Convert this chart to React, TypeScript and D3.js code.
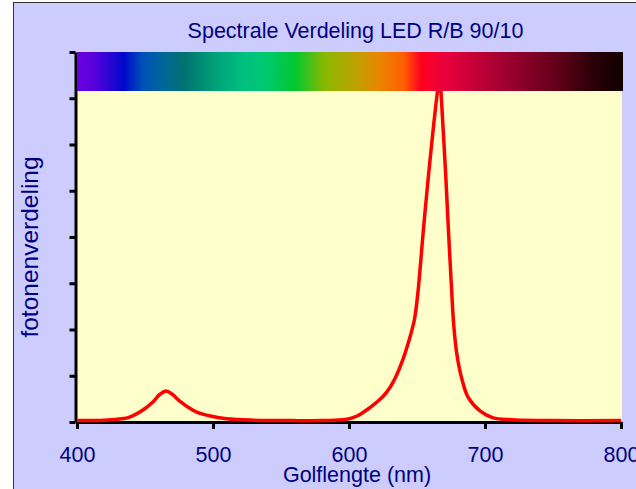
import * as d3 from "d3";
import { useEffect, useRef } from "react";

// spectrum (nm, relative photon count)
const wavelengths = [400, 420, 430, 437, 442, 448.5, 456, 461, 465.5, 470, 476, 485, 490, 498, 510, 530, 560, 580, 590, 598.5, 606, 613, 620, 625, 630, 634, 640, 644, 648, 650.5, 654.4, 658.1, 665.1, 666.8, 667.6, 671.3, 673.2, 675.2, 677, 679.4, 683.1, 687.5, 696.3, 706, 720, 750, 800];
const photons = [0.03, 0.04, 0.06, 0.09, 0.15, 0.26, 0.44, 0.6, 0.67, 0.6, 0.44, 0.26, 0.19, 0.13, 0.07, 0.04, 0.03, 0.03, 0.04, 0.06, 0.13, 0.26, 0.42, 0.55, 0.74, 0.95, 1.38, 1.75, 2.2, 2.75, 4.05, 5.23, 7.16, 7.5, 7.16, 5.23, 4.1, 3.0, 2.1, 1.45, 0.92, 0.54, 0.24, 0.09, 0.05, 0.03, 0.03];

const xTicks = [400, 500, 600, 700, 800];
const yTicks = [0, 1, 2, 3, 4, 5, 6, 7, 8];

// colour strip along the wavelength axis
const stripNm = [400, 412, 434.6, 447.8, 464, 477.2, 500.7, 522, 538.2, 559.6, 580.9, 602.2, 620.6, 639, 652.2, 670.6, 713.2, 752.9, 779.4, 800];
const stripColors = ["#6a00e0", "#5a00dc", "#0008cc", "#0050b8", "#006898", "#007070", "#00a078", "#00c080", "#00c870", "#00c830", "#88b800", "#b8a400", "#e88800", "#ff6000", "#ff0020", "#e8003c", "#a00030", "#600018", "#280006", "#100000"];

const title = "Spectrale Verdeling LED R/B 90/10";
const xLabel = "Golflengte (nm)";
const yLabel = "fotonenverdeling";

const App = () => {
    const ref = useRef(null);

    useEffect(() => {
        renderChart(ref.current);
    }, []);

    return (
        <div style={{ position: "absolute", left: 0, top: 0 }}>
            <svg ref={ref} width="636" height="489" style={{ display: "block" }} />
        </div>
    );
};

const renderChart = (node) => {
    const svg = d3.select(node);
    svg.selectAll("*").remove();

    const font = "'Liberation Sans', Arial, sans-serif";
    const navy = "#000080";

    var x = d3.scaleLinear().domain([400, 800]).range([77, 621]);
    var y = d3.scaleLinear().domain([0, 8]).range([422, 52]);

    // frame
    svg.append("rect")
        .attr("x", 13.5).attr("y", 2.5)
        .attr("width", 700).attr("height", 600)
        .attr("fill", "#ccccff")
        .attr("stroke", "#333").attr("stroke-width", 1);

    // plot background
    svg.append("rect")
        .attr("x", x(400)).attr("y", 91)
        .attr("width", x(800) - x(400) + 1).attr("height", y(0) - 91)
        .attr("fill", "#ffffcc");

    // x axis
    var xAxis = svg.append("g")
        .attr("transform", "translate(0," + y(0) + ")")
        .call(d3.axisBottom(x).tickValues(xTicks).tickSize(7).tickSizeOuter(0).tickPadding(14));
    xAxis.select(".domain").attr("stroke", "#000").attr("stroke-width", 3);
    xAxis.selectAll(".tick line").attr("stroke", "#000").attr("stroke-width", 3);
    xAxis.selectAll(".tick text")
        .attr("fill", navy).attr("font-family", font).attr("font-size", 21.5)
        .attr("dy", null).attr("y", 40);

    // y axis
    var yAxis = svg.append("g")
        .attr("transform", "translate(75.5,0)")
        .call(d3.axisLeft(y).tickValues(yTicks).tickSize(6).tickSizeOuter(0).tickFormat(() => ""));
    yAxis.select(".domain").attr("stroke", "#000").attr("stroke-width", 3);
    yAxis.selectAll(".tick line").attr("stroke", "#000").attr("stroke-width", 3);

    // spectrum curve
    var line = d3.line()
        .x((d, i) => x(wavelengths[i]))
        .y(d => y(d))
        .curve(d3.curveCatmullRom.alpha(0.5));

    svg.append("path")
        .datum(photons)
        .attr("d", line)
        .attr("fill", "none")
        .attr("stroke", "#ff0000")
        .attr("stroke-width", 3.5)
        .attr("stroke-linejoin", "round");

    // colour strip drawn over the top of the plot
    var grad = svg.append("defs").append("linearGradient")
        .attr("id", "spectrum")
        .attr("gradientUnits", "userSpaceOnUse")
        .attr("x1", x(400)).attr("x2", x(800) + 2)
        .attr("y1", 0).attr("y2", 0);
    stripNm.forEach((nm, i) => {
        grad.append("stop")
            .attr("offset", (nm - 400) / 400)
            .attr("stop-color", stripColors[i]);
    });
    svg.append("rect")
        .attr("x", x(400)).attr("y", 52)
        .attr("width", x(800) - x(400) + 2).attr("height", 39)
        .attr("fill", "url(#spectrum)");

    // texts
    svg.append("text")
        .attr("x", 355.5).attr("y", 38)
        .attr("text-anchor", "middle")
        .attr("font-family", font).attr("font-size", 21.5)
        .attr("fill", navy)
        .text(title);

    svg.append("text")
        .attr("x", 357).attr("y", 482)
        .attr("text-anchor", "middle")
        .attr("font-family", font).attr("font-size", 21.5)
        .attr("fill", navy)
        .text(xLabel);

    svg.append("text")
        .attr("transform", "translate(38,247) rotate(-90)")
        .attr("text-anchor", "middle")
        .attr("font-family", font).attr("font-size", 24.5)
        .attr("fill", navy)
        .text(yLabel);
};

export default App;
